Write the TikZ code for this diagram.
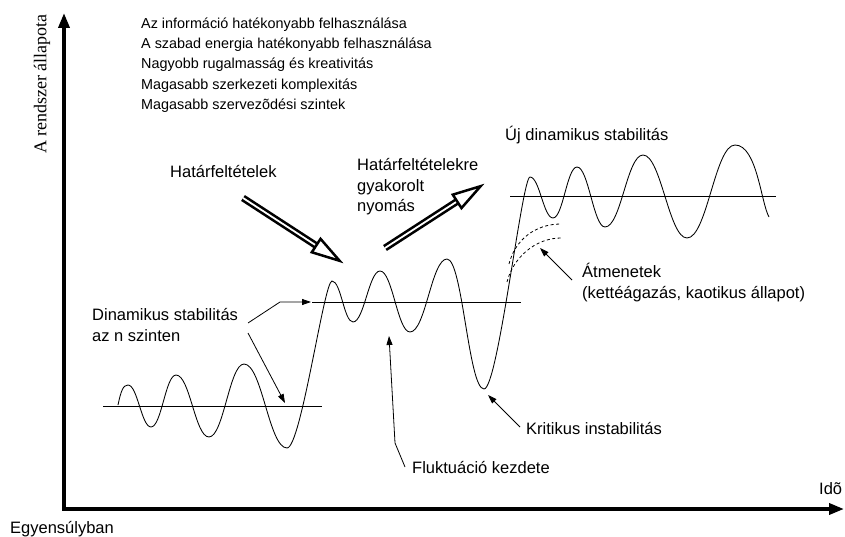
\documentclass[tikz,border=0pt]{standalone}
\usepackage{fontspec}
\setmainfont{Liberation Sans}
\newfontfamily\axisserif{Liberation Serif}
\usetikzlibrary{arrows.meta,calc}

% thick double-lined arrow with an open head: #1 = start, #2 = tip
\newcommand\bigdblarrow[2]{%
  \coordinate (bdv) at ($(#2)!4pt!(#1)$);
  \coordinate (bdb) at ($(bdv)!28pt!(#1)$);
  \draw[shaft] (#1) -- (bdb);
  \draw[head] ($(bdb)!8pt!90:(bdv)$) -- (bdv) -- ($(bdb)!8pt!-90:(bdv)$) -- cycle;
}

\begin{document}
\begin{tikzpicture}[x=1pt,y=-1pt,
  axis/.style={line width=3.5pt, line join=miter,
    {Triangle[length=15pt,width=11pt]}-{Triangle[length=15pt,width=11pt]}},
  level/.style={line width=1pt},
  wave/.style={line width=0.85pt},
  pointer/.style={line width=0.8pt, -{Triangle[length=9pt,width=6pt]}},
  trans/.style={line width=0.8pt, dash pattern=on 3pt off 2.5pt},
  lbl/.style={font=\fontsize{16.5}{20.5}\selectfont, inner sep=0pt,
    anchor=base west, align=left},
  toplist/.style={font=\fontsize{14.4}{20.25}\selectfont, inner sep=0pt,
    anchor=base west, align=left},
  shaft/.style={line width=2.6pt, double=white, double distance=1.8pt},
  head/.style={line width=2.5pt, fill=white, line join=miter},
]
\useasboundingbox (0,0) rectangle (845,537);

% axes
\coordinate (ytop) at (64,13);
\coordinate (origin) at (64,509);
\coordinate (xend) at (844,509);
\draw[axis] (ytop) -- (origin) -- (xend);
\node[rotate=90, inner sep=0pt, font=\axisserif\fontsize{18}{20}\selectfont]
  (ylab) at (42,84) {A rendszer állapota};
\node[lbl] (time) at (819,494) {Idõ};
\node[lbl] (equil) at (10,533) {Egyensúlyban};

% list of properties (multi-line nodes sit on the baseline of their last line)
\node[toplist] (props) at (141,109.5) {Az információ hatékonyabb felhasználása\\
  A szabad energia hatékonyabb felhasználása\\
  Nagyobb rugalmasság és kreativitás\\
  Magasabb szerkezeti komplexitás\\
  Magasabb szervezõdési szintek};

% stability levels
\coordinate (l1a) at (103,406); \coordinate (l1b) at (322,406);
\coordinate (l2a) at (312,302); \coordinate (l2b) at (521,302);
\coordinate (l3a) at (510,197); \coordinate (l3b) at (776,197);
\draw[level] (l1a) -- (l1b);
\draw[level] (l2a) -- (l2b);
\draw[level] (l3a) -- (l3b);

% the state of the system over time
\draw[wave] (118,405) .. controls +(3,-14) and +(-5,0) .. (128,385)
  .. controls +(9.5,0) and +(-9.5,0) .. (151,427)
  .. controls +(10.5,0) and +(-10.5,0) .. (176,375)
  .. controls +(14,0) and +(-14,0) .. (209,437)
  .. controls +(14.5,0) and +(-14.5,0) .. (244,364)
  .. controls +(18,0) and +(-18,0) .. (287,448)
  .. controls +(14,0) and +(-8,0) .. (332,281)
  .. controls +(9,0) and +(-9,0) .. (353,322)
  .. controls +(11,0) and +(-11,0) .. (380,271)
  .. controls +(12.5,0) and +(-12.5,0) .. (410,332)
  .. controls +(15.5,0) and +(-15.5,0) .. (447,259)
  .. controls +(15.5,0) and +(-15.5,0) .. (484,389)
  .. controls +(14,0) and +(-8,0) .. (530,177)
  .. controls +(9.5,0) and +(-9.5,0) .. (553,218)
  .. controls +(10,0) and +(-10,0) .. (577,167)
  .. controls +(11.5,0) and +(-11.5,0) .. (605,227)
  .. controls +(16,0) and +(-16,0) .. (643,155)
  .. controls +(18,0) and +(-18,0) .. (687,238)
  .. controls +(20,0) and +(-20,0) .. (735,145)
  .. controls +(22,0) and +(-8,-14) .. (769,217);

% alternative transitions
\coordinate (t1s) at (509,264); \coordinate (t1e) at (561,224);
\coordinate (t2s) at (507,282); \coordinate (t2e) at (561,238);
\draw[trans] (t1s) .. controls +(6,-24) and +(-26,0) .. (t1e);
\draw[trans] (t2s) .. controls +(6,-24) and +(-26,0) .. (t2e);

% boundary conditions
\node[lbl] (bc) at (170,178) {Határfeltételek};
\node[lbl] (press) at (357,212) {Határfeltételekre\\gyakorolt\\nyomás};
\coordinate (bcA) at (243,198); \coordinate (bcB) at (343,263);
\coordinate (prA) at (385,248); \coordinate (prB) at (484,184);
\bigdblarrow{bcA}{bcB}
\bigdblarrow{prA}{prB}

% labels with pointers
\node[lbl] (newstab) at (505,141) {Új dinamikus stabilitás};

\node[lbl] (dynstab) at (92,341) {Dinamikus stabilitás\\az n szinten};
\coordinate (ds1) at (248,323); \coordinate (ds1k) at (280,302);
\coordinate (ds1e) at (311,302);
\coordinate (ds2) at (248,333); \coordinate (ds2e) at (285,403);
\draw[pointer] (ds1) -- (ds1k) -- (ds1e);
\draw[pointer] (ds2) -- (ds2e);

\node[lbl] (fluct) at (412,473) {Fluktuáció kezdete};
\coordinate (fl1) at (405,467); \coordinate (flk) at (395,443);
\coordinate (fle) at (389,336);
\draw[pointer] (fl1) -- (flk) -- (fle);

\node[lbl] (crit) at (526,434) {Kritikus instabilitás};
\coordinate (cr1) at (520,427); \coordinate (cre) at (488,395);
\draw[pointer] (cr1) -- (cre);

\node[lbl] (trns) at (582,298) {Átmenetek\\(kettéágazás, kaotikus állapot)};
\coordinate (tr1) at (572,280); \coordinate (tre) at (540,248);
\draw[pointer] (tr1) -- (tre);
\end{tikzpicture}
\end{document}
